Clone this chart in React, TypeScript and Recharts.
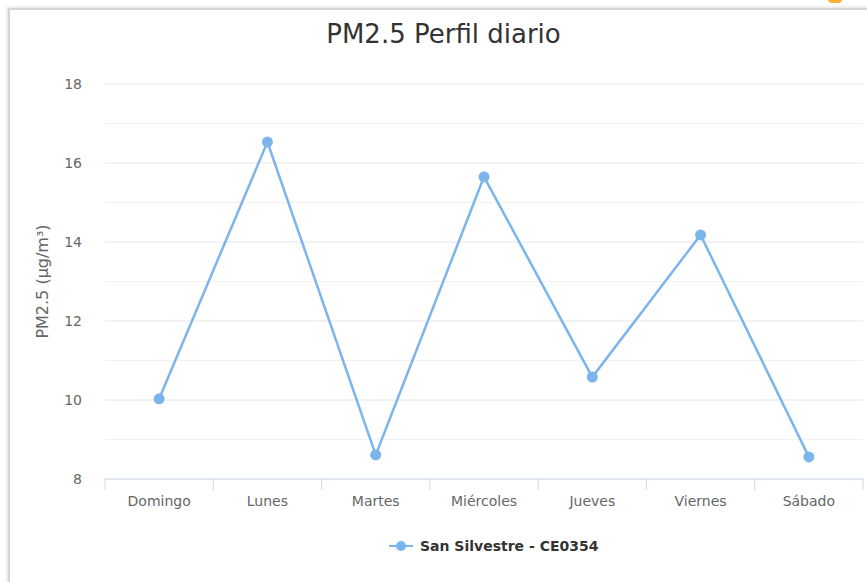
import React from "react";
import {
  LineChart,
  Line,
  XAxis,
  YAxis,
  CartesianGrid,
  ReferenceLine,
} from "recharts";

const days = ["Domingo", "Lunes", "Martes", "Miércoles", "Jueves", "Viernes", "Sábado"];
const pm25 = [10.03, 16.53, 8.61, 15.65, 10.58, 14.18, 8.56];
const majorTicks = [8, 10, 12, 14, 16, 18];
const minorTicks = [9, 11, 13, 15, 17];

const SERIES_NAME = "San Silvestre - CE0354";
const COLOR = "#7cb5ec";
const FONT = "'DejaVu Sans', sans-serif";

const W = 867;
const H = 582;
const X_AXIS_H = 30;
const M = { top: 84, right: 4, bottom: 103 - X_AXIS_H, left: 0 };
const Y_AXIS_W = 105;
const plotW = W - M.left - M.right - Y_AXIS_W;
const halfBand = plotW / days.length / 2;

const data = days.map((day, i) => ({ day, value: pm25[i] }));

function XTick(props: any) {
  const { x, y, payload, index } = props;
  return (
    <g>
      <line x1={x - halfBand} x2={x - halfBand} y1={y} y2={y + 11} stroke="#ccd6eb" />
      {index === days.length - 1 && (
        <line x1={x + halfBand} x2={x + halfBand} y1={y} y2={y + 11} stroke="#ccd6eb" />
      )}
      <text x={x} y={y + 27} textAnchor="middle" fill="#666" fontSize={14} fontFamily={FONT}>
        {payload.value}
      </text>
    </g>
  );
}

export default function App() {
  return (
    <div
      style={{
        position: "fixed",
        left: 0,
        top: 0,
        width: W,
        height: H,
        background: "#fff",
        overflow: "hidden",
        fontFamily: FONT,
      }}
    >
      <div
        style={{
          position: "absolute",
          left: 8,
          top: 8,
          width: 920,
          height: 640,
          borderTop: "2px solid #d6d6d6",
          borderLeft: "2px solid #d6d6d6",
          boxShadow: "-1px -1px 3px rgba(0,0,0,0.12)",
        }}
      />
      <div
        style={{
          position: "absolute",
          left: 828,
          top: -6,
          width: 14,
          height: 9,
          borderRadius: 4,
          background: "#f5b133",
        }}
      />
      <div
        style={{
          position: "absolute",
          top: 19,
          left: 0,
          width: 887,
          textAlign: "center",
          fontSize: 26,
          color: "#333",
        }}
      >
        PM2.5 Perfil diario
      </div>
      <div style={{ position: "absolute", left: 0, top: 0 }}>
        <LineChart width={W} height={H} data={data} margin={M}>
          <CartesianGrid horizontal vertical={false} stroke="#e6e6e6" />
          {minorTicks.map((v) => (
            <ReferenceLine key={v} y={v} stroke="#f2f2f2" />
          ))}
          <XAxis
            dataKey="day"
            scale="band"
            height={X_AXIS_H}
            axisLine={{ stroke: "#ccd6eb" }}
            tickLine={false}
            tickSize={0}
            tickMargin={0}
            interval={0}
            tick={<XTick />}
          />
          <YAxis
            domain={[8, 18]}
            ticks={majorTicks}
            width={Y_AXIS_W}
            axisLine={false}
            tickLine={false}
            tickSize={0}
            tickMargin={23}
            tick={{ fill: "#666", fontSize: 14, fontFamily: FONT }}
            label={{
              value: "PM2.5 (µg/m³)",
              angle: -90,
              position: "insideLeft",
              offset: 42,
              style: { textAnchor: "middle", fill: "#666", fontSize: 16, fontFamily: FONT },
            }}
          />
          <Line
            type="linear"
            dataKey="value"
            name={SERIES_NAME}
            stroke={COLOR}
            strokeWidth={2.5}
            dot={{ r: 5.5, fill: COLOR, stroke: COLOR, strokeWidth: 0 }}
            activeDot={false}
            isAnimationActive={false}
          />
        </LineChart>
      </div>
      <div
        style={{
          position: "absolute",
          top: 538,
          left: 389,
          display: "flex",
          alignItems: "center",
          gap: 7,
          fontSize: 14,
          fontWeight: "bold",
          color: "#333",
        }}
      >
        <svg width={24} height={12}>
          <line x1={0} x2={24} y1={6} y2={6} stroke={COLOR} strokeWidth={2} />
          <circle cx={12} cy={6} r={5} fill={COLOR} />
        </svg>
        <span>{SERIES_NAME}</span>
      </div>
    </div>
  );
}
